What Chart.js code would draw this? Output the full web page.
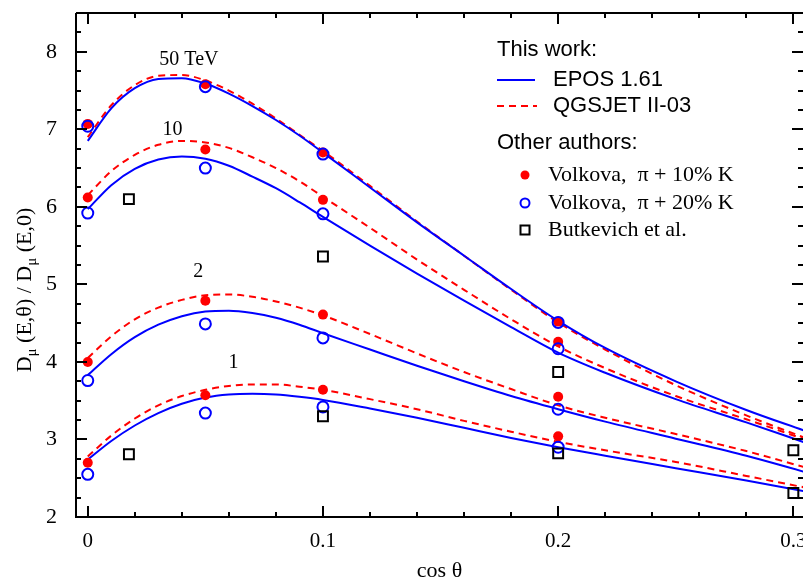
<!DOCTYPE html>
<html>
<head>
<meta charset="utf-8">
<script src="https://cdn.jsdelivr.net/npm/chart.js@4.4.0/dist/chart.umd.min.js"></script>
<style>
  body { margin: 0; background: #fff; }
  canvas { display: block; }
</style>
</head>
<body>
<canvas id="chartCanvas" width="803" height="581"></canvas>
<script>
// cos theta grid used by the model curves
const curveX = [0, 0.01, 0.02, 0.03, 0.04, 0.05, 0.06, 0.07, 0.08, 0.09, 0.1, 0.12, 0.14, 0.16, 0.18, 0.2, 0.22, 0.25, 0.28, 0.305];

// EPOS 1.61 (solid blue)
const epos50 = [6.85, 7.27, 7.53, 7.65, 7.66, 7.59, 7.46, 7.30, 7.12, 6.92, 6.70, 6.25, 5.80, 5.37, 4.94, 4.53, 4.18, 3.75, 3.38, 3.11];
const epos10 = [5.97, 6.28, 6.49, 6.61, 6.65, 6.62, 6.53, 6.39, 6.24, 6.06, 5.87, 5.50, 5.14, 4.79, 4.45, 4.12, 3.86, 3.52, 3.22, 2.96];
const epos2 = [3.83, 4.10, 4.32, 4.48, 4.59, 4.65, 4.66, 4.63, 4.57, 4.48, 4.37, 4.16, 3.95, 3.75, 3.56, 3.39, 3.23, 3.01, 2.79, 2.58];
const epos1 = [2.74, 2.98, 3.18, 3.34, 3.46, 3.54, 3.58, 3.59, 3.58, 3.55, 3.51, 3.40, 3.28, 3.15, 3.02, 2.90, 2.79, 2.63, 2.47, 2.33];

// QGSJET II-03 (dashed red)
const qgs50 = [6.90, 7.31, 7.57, 7.69, 7.70, 7.63, 7.50, 7.33, 7.14, 6.93, 6.72, 6.27, 5.81, 5.37, 4.93, 4.51, 4.16, 3.70, 3.31, 3.02];
const qgs10 = [6.15, 6.46, 6.67, 6.80, 6.85, 6.83, 6.76, 6.64, 6.50, 6.33, 6.13, 5.73, 5.32, 4.93, 4.55, 4.20, 3.92, 3.56, 3.26, 3.00];
const qgs2 = [4.05, 4.33, 4.55, 4.70, 4.80, 4.86, 4.87, 4.84, 4.78, 4.70, 4.60, 4.36, 4.11, 3.87, 3.65, 3.44, 3.28, 3.07, 2.85, 2.64];
const qgs1 = [2.78, 3.05, 3.27, 3.44, 3.56, 3.64, 3.69, 3.71, 3.71, 3.68, 3.64, 3.52, 3.39, 3.24, 3.10, 2.97, 2.86, 2.71, 2.53, 2.38];

// Volkova points (50, 10, 2, 1 TeV at each cos theta)
const volkovaX = [0, 0.05, 0.1, 0.2];
const volkova10K = [
  [7.07, 7.58, 6.70, 4.52],
  [6.12, 6.74, 6.09, 4.26],
  [4.00, 4.79, 4.61, 3.55],
  [2.70, 3.57, 3.64, 3.04],
];
const volkova20K = [
  [7.04, 7.55, 6.68, 4.51],
  [5.92, 6.50, 5.91, 4.17],
  [3.76, 4.49, 4.31, 3.39],
  [2.55, 3.34, 3.42, 2.90],
];

// Butkevich et al.
const butkevichX = [0.0175, 0.1, 0.2, 0.3];
const butkevichUpper = [6.10, 5.36, 3.87, 2.86];
const butkevichLower = [2.81, 3.30, 2.82, 2.31];

// axis ticks and curve labels
const xTicks = [0, 0.1, 0.2, 0.3];
const yTicks = [2, 3, 4, 5, 6, 7, 8];
const energyLabels = ['50 TeV', '10', '2', '1'];
const energyLabelX = [0.043, 0.036, 0.047, 0.062];
const energyLabelY = [7.9, 6.99, 5.16, 3.99];

const BLUE = '#0000ff';
const RED = '#ff0000';
const SERIF = '"Liberation Serif", "Times New Roman", serif';
const SANS = '"Liberation Sans", Arial, sans-serif';

function toPoints(xs, ys) {
  return xs.map((x, i) => ({ x: x, y: ys[i] }));
}

function curve(label, ys, color, dashed) {
  return {
    label: label,
    data: toPoints(curveX, ys),
    borderColor: color,
    borderWidth: 2,
    borderDash: dashed ? [7, 5] : [],
    pointRadius: 0,
    fill: false,
    cubicInterpolationMode: 'monotone',
    showLine: true,
  };
}

const datasets = [];
// markers first so they are drawn on top of the curves
datasets.push({
  label: 'Butkevich et al.',
  data: toPoints(butkevichX, butkevichUpper).concat(toPoints(butkevichX, butkevichLower)),
  showLine: false,
  pointStyle: 'rect',
  pointRadius: 7,
  pointBorderWidth: 2,
  pointBorderColor: '#000',
  pointBackgroundColor: 'rgba(0,0,0,0)',
});
datasets.push({
  label: 'Volkova, pi + 20% K',
  data: volkova20K.flatMap((ys) => toPoints(volkovaX, ys)),
  showLine: false,
  pointStyle: 'circle',
  pointRadius: 5.5,
  pointBorderWidth: 2,
  pointBorderColor: BLUE,
  pointBackgroundColor: 'rgba(0,0,0,0)',
});
datasets.push({
  label: 'Volkova, pi + 10% K',
  data: volkova10K.flatMap((ys) => toPoints(volkovaX, ys)),
  showLine: false,
  pointStyle: 'circle',
  pointRadius: 5,
  pointBorderWidth: 0,
  pointBackgroundColor: RED,
});
[epos50, epos10, epos2, epos1].forEach((ys, i) => datasets.push(curve('EPOS ' + energyLabels[i], ys, BLUE, false)));
[qgs50, qgs10, qgs2, qgs1].forEach((ys, i) => datasets.push(curve('QGSJET ' + energyLabels[i], ys, RED, true)));

// frame, inward ticks, x labels, titles, curve labels and legend
const decorations = {
  id: 'decorations',
  afterDraw(chart) {
    const ctx = chart.ctx;
    const area = chart.chartArea;
    const xs = chart.scales.x;
    const ys = chart.scales.y;
    ctx.save();
    ctx.strokeStyle = '#000';
    ctx.lineWidth = 2;
    ctx.beginPath();
    ctx.moveTo(area.left, area.top);
    ctx.lineTo(area.left, area.bottom);
    ctx.lineTo(area.right + 2, area.bottom);
    ctx.moveTo(area.left, area.top);
    ctx.lineTo(area.right + 2, area.top);
    // x ticks every 0.02, major every 0.1
    for (let k = 0; k <= 15; k++) {
      const v = k * 0.02;
      const px = Math.round(xs.getPixelForValue(v));
      if (px > area.right) continue;
      const len = k % 5 === 0 ? 11 : 5;
      ctx.moveTo(px, area.bottom);
      ctx.lineTo(px, area.bottom - len);
      ctx.moveTo(px, area.top);
      ctx.lineTo(px, area.top + len);
    }
    // y ticks every 0.25, major every 1
    for (let k = 0; k <= 26; k++) {
      const v = 2 + k * 0.25;
      const py = Math.round(ys.getPixelForValue(v));
      const len = k % 4 === 0 ? 11 : 5;
      ctx.moveTo(area.left, py);
      ctx.lineTo(area.left + len, py);
      ctx.moveTo(area.right, py);
      ctx.lineTo(area.right - len, py);
    }
    ctx.stroke();

    ctx.fillStyle = '#000';
    ctx.textAlign = 'center';
    ctx.textBaseline = 'middle';
    // x tick labels
    ctx.font = '21px ' + SERIF;
    xTicks.forEach((v) => {
      ctx.fillText(String(v), xs.getPixelForValue(v), 541);
    });

    // curve labels
    ctx.font = '20px ' + SERIF;
    energyLabels.forEach((t, i) => {
      ctx.fillText(t, xs.getPixelForValue(energyLabelX[i]), ys.getPixelForValue(energyLabelY[i]));
    });

    // x title
    ctx.font = '22px ' + SERIF;
    ctx.fillText('cos θ', (area.left + area.right) / 2, 571);

    // y title with subscripts
    const parts = [
      ['D', false], ['μ', true], [' (E,θ) / D', false], ['μ', true], [' (E,0)', false],
    ];
    const bigFont = '22px ' + SERIF;
    const subFont = '15px ' + SERIF;
    let total = 0;
    parts.forEach((p) => {
      ctx.font = p[1] ? subFont : bigFont;
      total += ctx.measureText(p[0]).width;
    });
    ctx.translate(24, 290);
    ctx.rotate(-Math.PI / 2);
    ctx.textAlign = 'left';
    ctx.textBaseline = 'alphabetic';
    let cx = -total / 2;
    parts.forEach((p) => {
      ctx.font = p[1] ? subFont : bigFont;
      ctx.fillText(p[0], cx, p[1] ? 12 : 7);
      cx += ctx.measureText(p[0]).width;
    });
    ctx.setTransform(1, 0, 0, 1, 0, 0);

    // legend
    ctx.textAlign = 'left';
    ctx.textBaseline = 'middle';
    ctx.font = '22px ' + SANS;
    ctx.fillText('This work:', 497, 50);
    ctx.fillText('EPOS 1.61', 553, 80);
    ctx.fillText('QGSJET II-03', 553, 106);
    ctx.fillText('Other authors:', 497, 143);
    ctx.lineWidth = 2;
    ctx.strokeStyle = BLUE;
    ctx.beginPath();
    ctx.moveTo(497, 80);
    ctx.lineTo(535, 80);
    ctx.stroke();
    ctx.strokeStyle = RED;
    ctx.setLineDash([7, 5]);
    ctx.beginPath();
    ctx.moveTo(497, 106);
    ctx.lineTo(537, 106);
    ctx.stroke();
    ctx.setLineDash([]);

    ctx.fillStyle = RED;
    ctx.beginPath();
    ctx.arc(525, 175, 4.5, 0, Math.PI * 2);
    ctx.fill();
    ctx.strokeStyle = BLUE;
    ctx.beginPath();
    ctx.arc(525, 203, 4.5, 0, Math.PI * 2);
    ctx.stroke();
    ctx.strokeStyle = '#000';
    ctx.strokeRect(520.5, 225.5, 9, 9);

    ctx.fillStyle = '#000';
    ctx.font = '22px ' + SERIF;
    ctx.fillText('Volkova,  π + 10% K', 548, 175);
    ctx.fillText('Volkova,  π + 20% K', 548, 203);
    ctx.fillText('Butkevich et al.', 548, 230);
    ctx.restore();
  },
};

const ctx = document.getElementById('chartCanvas').getContext('2d');
new Chart(ctx, {
  type: 'scatter',
  data: { datasets: datasets },
  plugins: [decorations],
  options: {
    responsive: false,
    animation: false,
    events: [],
    layout: { autoPadding: false, padding: { top: 13, right: 0, left: 0, bottom: 0 } },
    plugins: { legend: { display: false }, tooltip: { enabled: false }, title: { display: false } },
    scales: {
      x: {
        type: 'linear',
        min: -0.005,
        max: 0.3041,
        grid: { display: false },
        border: { display: false },
        ticks: { display: false },
        afterFit: (scale) => {
          scale.height = 64;
          scale.paddingLeft = 0;
          scale.paddingRight = 0;
        },
      },
      y: {
        type: 'linear',
        min: 2,
        max: 8.5,
        grid: { display: false },
        border: { display: false },
        afterBuildTicks: (scale) => { scale.ticks = yTicks.map((v) => ({ value: v })); },
        afterFit: (scale) => {
          scale.width = 76;
          scale.paddingTop = 0;
          scale.paddingBottom = 0;
        },
        ticks: {
          padding: 11,
          color: '#000',
          font: { family: SERIF, size: 22 },
          callback: (v) => String(v),
        },
      },
    },
  },
});
</script>
</body>
</html>
